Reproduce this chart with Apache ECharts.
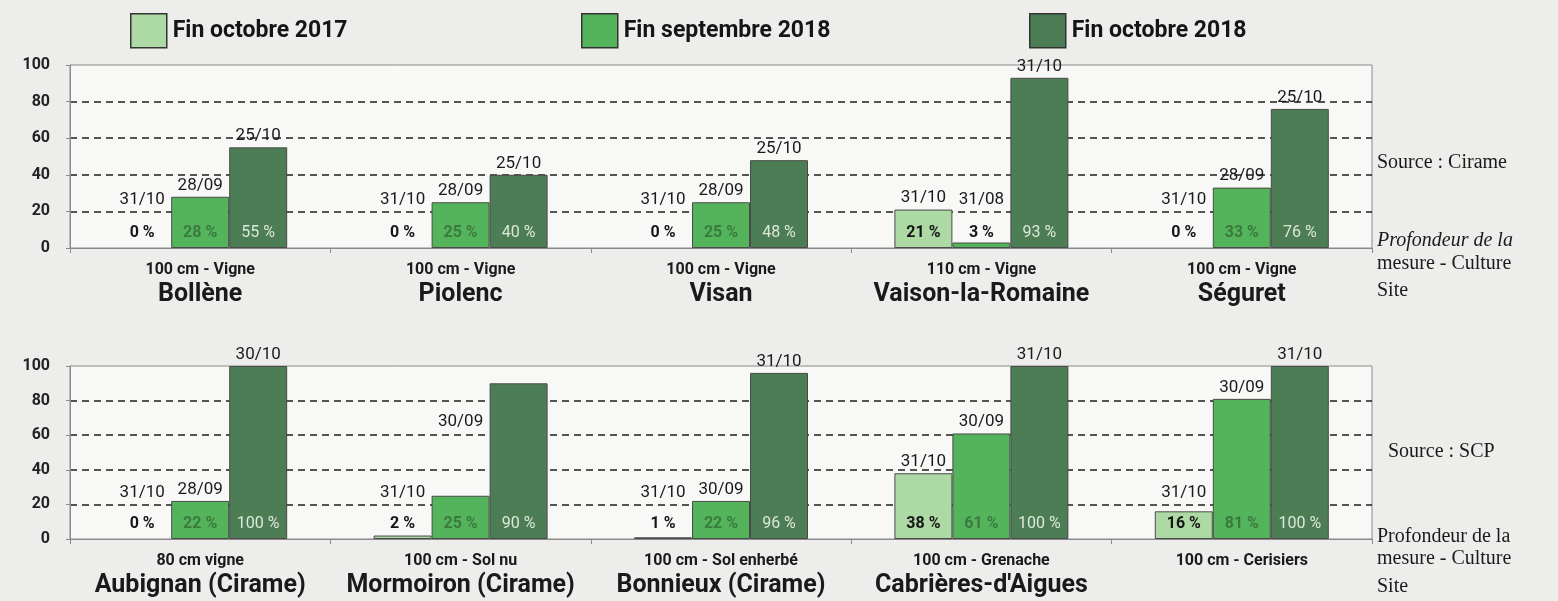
<!DOCTYPE html>
<html>
<head>
<meta charset="utf-8">
<script src="https://cdn.jsdelivr.net/npm/echarts@6/dist/echarts.min.js"></script>
<style>
  html, body { margin: 0; padding: 0; background: #ededeb; }
  #chart { width: 1558px; height: 601px; }
</style>
</head>
<body>
<div id="chart"></div>
<script>
// --- données ---
const seriesNames = ['Fin octobre 2017', 'Fin septembre 2018', 'Fin octobre 2018'];
const yTicks = [0, 20, 40, 60, 80, 100];

// source Cirame
const topSites = ['Bollène', 'Piolenc', 'Visan', 'Vaison-la-Romaine', 'Séguret'];
const topDepths = ['100 cm - Vigne', '100 cm - Vigne', '100 cm - Vigne', '110 cm - Vigne', '100 cm - Vigne'];
const topOct2017 = [0, 0, 0, 21, 0];
const topSep2018 = [28, 25, 25, 3, 33];
const topOct2018 = [55, 40, 48, 93, 76];
const topDatesOct2017 = ['31/10', '31/10', '31/10', '31/10', '31/10'];
const topDatesSep2018 = ['28/09', '28/09', '28/09', '31/08', '28/09'];
const topDatesOct2018 = ['25/10', '25/10', '25/10', '31/10', '25/10'];

// source SCP
const bottomSites = ['Aubignan (Cirame)', 'Mormoiron (Cirame)', 'Bonnieux (Cirame)', "Cabrières-d'Aigues", ''];
const bottomDepths = ['80 cm vigne', '100 cm - Sol nu', '100 cm - Sol enherbé', '100 cm - Grenache', '100 cm - Cerisiers'];
const bottomOct2017 = [0, 2, 1, 38, 16];
const bottomSep2018 = [22, 25, 22, 61, 81];
const bottomOct2018 = [100, 90, 96, 100, 100];
const bottomDatesOct2017 = ['31/10', '31/10', '31/10', '31/10', '31/10'];
const bottomDatesSep2018 = ['28/09', '30/09', '30/09', '30/09', '30/09'];
const bottomDatesOct2018 = ['30/10', '', '31/10', '31/10', '31/10'];

// --- styles ---
const colors = ['#addaa4', '#54b45b', '#4d7d54'];
const pctColors = ['#151515', '#3b7a3f', '#dbe8da'];
const barW = 58;
const font = 'Roboto, "DejaVu Sans", sans-serif';

const chart = echarts.init(document.getElementById('chart'));

function catAxis(gridIndex, depths, sites, show) {
  return {
    type: 'category',
    gridIndex: gridIndex,
    data: depths.map((d, i) => d + '|' + sites[i]),
    show: show,
    axisLine: { show: show, lineStyle: { color: '#8a8a8a', width: 1 } },
    axisTick: { show: show, length: 5, lineStyle: { color: '#8a8a8a' } },
    axisLabel: {
      show: show,
      margin: 11,
      interval: 0,
      formatter: (v) => {
        const p = v.split('|');
        return '{m|' + p[0] + '}\n{s|' + (p[1] || ' ') + '}';
      },
      rich: {
        m: { fontFamily: font, fontWeight: 'bold', fontSize: 16, color: '#1a1a1a', lineHeight: 22 },
        s: { fontFamily: font, fontWeight: 'bold', fontSize: 25, color: '#1a1a1a', lineHeight: 28 }
      }
    },
    splitLine: { show: false }
  };
}

function valAxis(gridIndex) {
  return {
    type: 'value',
    gridIndex: gridIndex,
    min: 0,
    max: 100,
    interval: 20,
    axisLine: { show: true, lineStyle: { color: '#8a8a8a' } },
    axisTick: { show: true, length: 4, lineStyle: { color: '#8a8a8a' } },
    axisLabel: {
      margin: 20,
      fontFamily: font,
      fontWeight: 'bold',
      fontSize: 16,
      color: '#222',
      formatter: (v) => (yTicks.includes(v) ? String(v) : '')
    },
    splitLine: {
      show: true,
      lineStyle: {
        color: ['transparent', '#1e1e1e', '#1e1e1e', '#1e1e1e', '#1e1e1e', 'transparent'],
        type: [7, 5],
        width: 1.6
      }
    }
  };
}

function pctSeries(name, values, idx, xIdx, yIdx) {
  return {
    name: name,
    type: 'bar',
    xAxisIndex: xIdx,
    yAxisIndex: yIdx,
    barWidth: barW,
    barGap: '0%',
    itemStyle: { color: colors[idx], borderColor: '#4a4a4a', borderWidth: 1 },
    data: values.map((v) => ({
      value: v,
      itemStyle: v === 0 ? { borderWidth: 0 } : undefined,
      label: { color: v < 8 ? '#151515' : pctColors[idx], fontWeight: (idx === 2 && v >= 8) ? 'normal' : 'bold' }
    })),
    label: {
      show: true,
      position: 'insideBottom',
      distance: 7,
      fontFamily: font,
      fontSize: 16,
      formatter: (p) => p.value + ' %'
    },
    z: 3
  };
}

// couche transparente qui porte les dates au-dessus des barres
function dateSeries(values, dates, xIdx, yIdx, overrides) {
  return {
    name: 'dates',
    type: 'bar',
    xAxisIndex: xIdx,
    yAxisIndex: yIdx,
    barWidth: barW,
    barGap: '0%',
    silent: true,
    itemStyle: { color: 'transparent' },
    data: values.map((v, i) => {
      const item = { value: Math.max(v, 20) };
      if (overrides && overrides[i]) item.label = { offset: overrides[i] };
      return item;
    }),
    label: {
      show: true,
      position: 'top',
      distance: 3,
      fontFamily: font,
      fontSize: 17,
      color: '#1a1a1a',
      formatter: (p) => dates[p.dataIndex]
    },
    z: 4
  };
}

function legendAt(name, left) {
  return {
    data: [name],
    left: left,
    top: 13,
    padding: 0,
    icon: 'rect',
    itemWidth: 36,
    itemHeight: 34,
    itemGap: 8,
    selectedMode: false,
    textStyle: { fontFamily: font, fontWeight: 'bold', fontSize: 23, color: '#151515', padding: [0, 0, 0, 1] },
    itemStyle: { borderColor: '#333', borderWidth: 1.5 }
  };
}

const option = {
  backgroundColor: '#ededeb',
  animation: false,
  legend: [
    legendAt(seriesNames[0], 130),
    legendAt(seriesNames[1], 581),
    legendAt(seriesNames[2], 1029)
  ],
  grid: [
    { left: 70, right: 186, top: 65, height: 183, show: true, borderColor: '#8a8a8a', borderWidth: 1, backgroundColor: '#f8f8f7' },
    { left: 70, right: 186, top: 366, height: 173, show: true, borderColor: '#8a8a8a', borderWidth: 1, backgroundColor: '#f8f8f7' }
  ],
  xAxis: [
    catAxis(0, topDepths, topSites, true),
    catAxis(0, topDepths, topSites, false),
    catAxis(1, bottomDepths, bottomSites, true),
    catAxis(1, bottomDepths, bottomSites, false)
  ],
  yAxis: [valAxis(0), valAxis(1)],
  series: [
    pctSeries(seriesNames[0], topOct2017, 0, 0, 0),
    pctSeries(seriesNames[1], topSep2018, 1, 0, 0),
    pctSeries(seriesNames[2], topOct2018, 2, 0, 0),
    dateSeries(topOct2017, topDatesOct2017, 1, 0),
    dateSeries(topSep2018, topDatesSep2018, 1, 0),
    dateSeries(topOct2018, topDatesOct2018, 1, 0),
    pctSeries(seriesNames[0], bottomOct2017, 0, 2, 1),
    pctSeries(seriesNames[1], bottomSep2018, 1, 2, 1),
    pctSeries(seriesNames[2], bottomOct2018, 2, 2, 1),
    dateSeries(bottomOct2017, bottomDatesOct2017, 3, 1),
    dateSeries(bottomSep2018, bottomDatesSep2018, 3, 1, { 1: [0, -63] }),
    dateSeries(bottomOct2018, bottomDatesOct2018, 3, 1)
  ],
  graphic: [
    { type: 'text', left: 1377, top: 153, style: { text: 'Source : Cirame', font: '20px "Liberation Serif", serif', fill: '#1a1a1a' } },
    { type: 'text', left: 1377, top: 231, style: { text: 'Profondeur de la', font: 'italic 20px "Liberation Serif", serif', fill: '#1a1a1a' } },
    { type: 'text', left: 1377, top: 254, style: { text: 'mesure - Culture', font: '20px "Liberation Serif", serif', fill: '#1a1a1a' } },
    { type: 'text', left: 1377, top: 281, style: { text: 'Site', font: '20px "Liberation Serif", serif', fill: '#1a1a1a' } },
    { type: 'text', left: 1388, top: 442, style: { text: 'Source : SCP', font: '20px "Liberation Serif", serif', fill: '#1a1a1a' } },
    { type: 'text', left: 1377, top: 527, style: { text: 'Profondeur de la', font: '20px "Liberation Serif", serif', fill: '#1a1a1a' } },
    { type: 'text', left: 1377, top: 549, style: { text: 'mesure - Culture', font: '20px "Liberation Serif", serif', fill: '#1a1a1a' } },
    { type: 'text', left: 1377, top: 577, style: { text: 'Site', font: '20px "Liberation Serif", serif', fill: '#1a1a1a' } }
  ]
};

chart.setOption(option);
</script>
</body>
</html>
